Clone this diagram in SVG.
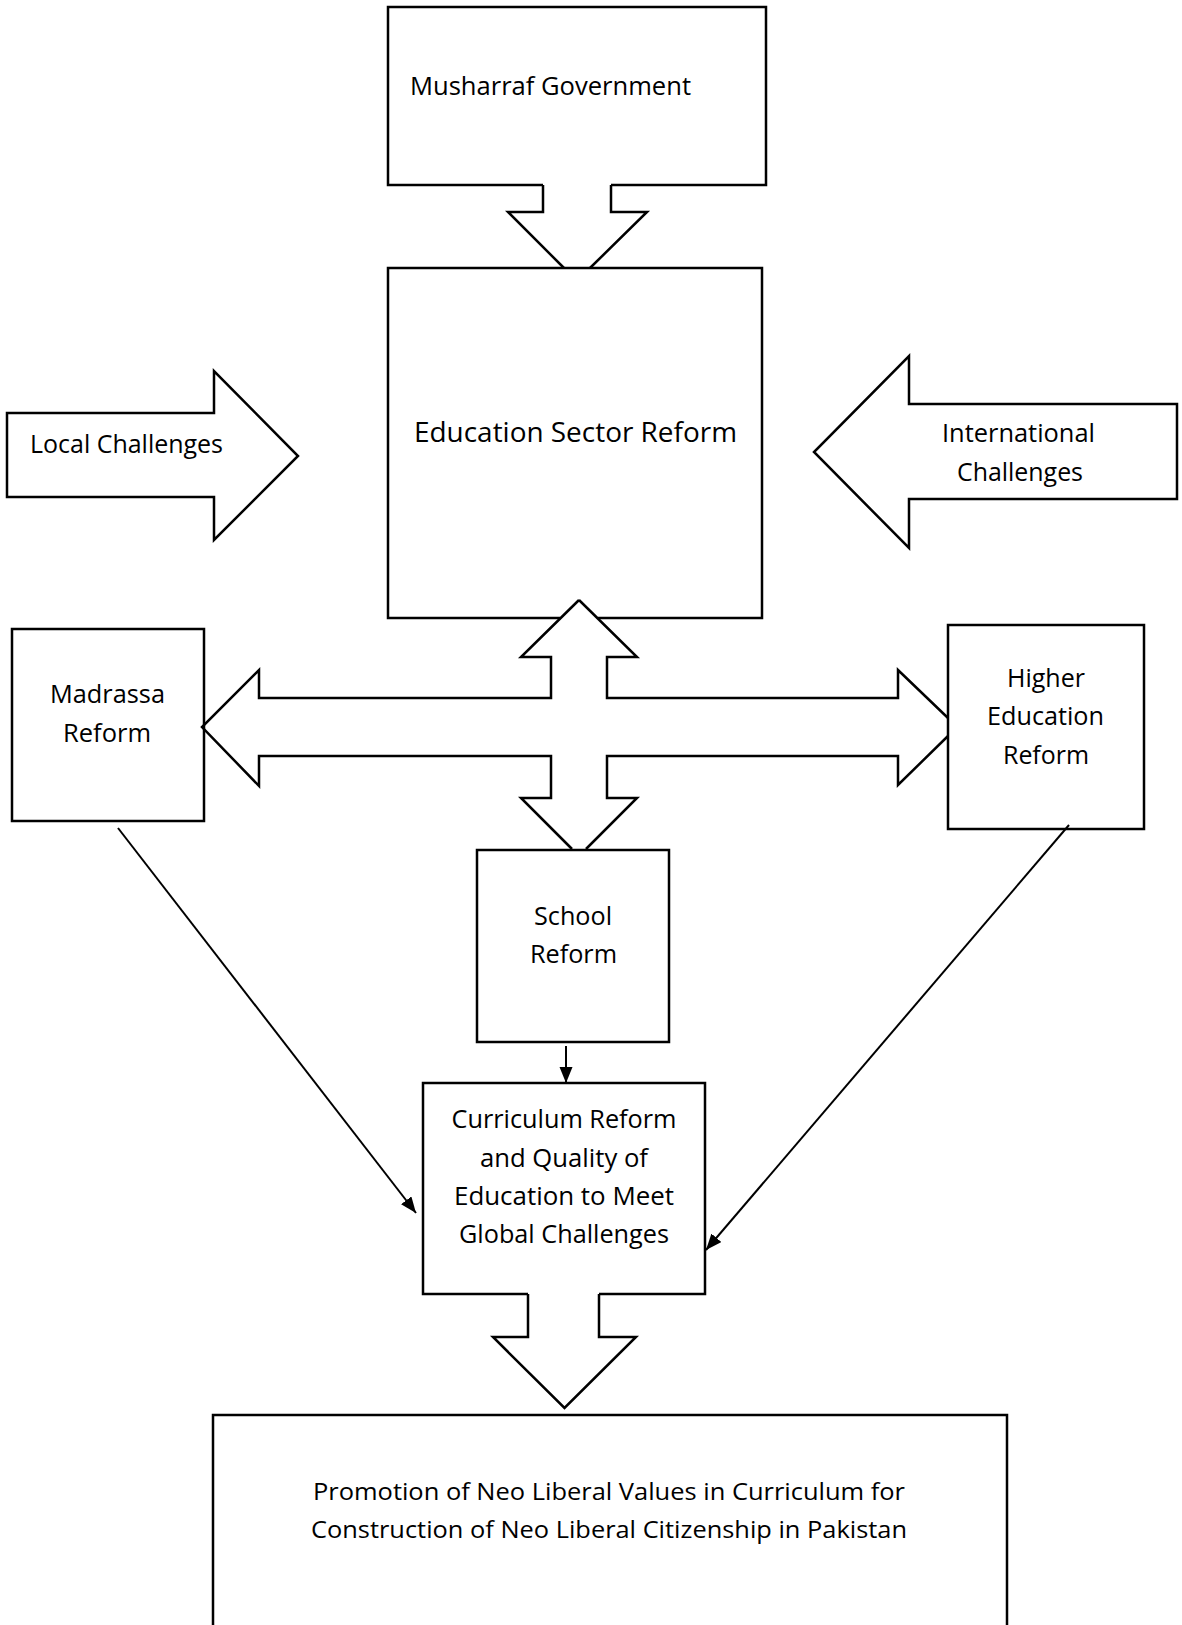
<svg xmlns="http://www.w3.org/2000/svg" width="1182" height="1625" viewBox="0 0 1182 1625">
<defs>
<style>
.box{fill:none;stroke:#000;stroke-width:2.5;stroke-linejoin:miter}
.blk{fill:none;stroke:#000;stroke-width:2.5;stroke-linejoin:miter}
.ln{fill:none;stroke:#000;stroke-width:2}
text{font-family:"Open Sans","Noto Sans","Liberation Sans",sans-serif;font-size:25px;fill:#000}
.c{text-anchor:middle}
</style>
<marker id="ah" markerUnits="userSpaceOnUse" markerWidth="18" markerHeight="14" refX="16" refY="6.5" orient="auto">
<path d="M0,0 L16,6.5 L0,13 z" fill="#000"/>
</marker>
</defs>
<rect width="1182" height="1625" fill="#fff"/>

<g id="musharraf">
<path class="box" d="M543,185 H388 V7 H766 V185 H611"/>
<text x="410" y="95" textLength="281" lengthAdjust="spacingAndGlyphs">Musharraf Government</text>
</g>

<g id="education-sector-reform">
<path class="box" d="M560,618 H388 V268 H762 V618 H598"/>
<text class="c" x="575.5" y="442" style="font-size:27px" textLength="323" lengthAdjust="spacingAndGlyphs">Education Sector Reform</text>
</g>

<g id="local-challenges">
<path class="blk" d="M7,413 H214 V371 L298,456 L214,540 V497 H7 Z"/>
<text x="30" y="453" textLength="193" lengthAdjust="spacingAndGlyphs">Local Challenges</text>
</g>

<g id="international-challenges">
<path class="blk" d="M1177,404 H909 V356 L814,452 L909,548 V499 H1177 Z"/>
<text class="c" x="1018.5" y="442" textLength="153" lengthAdjust="spacingAndGlyphs">International</text>
<text class="c" x="1020" y="481" textLength="126" lengthAdjust="spacingAndGlyphs">Challenges</text>
</g>

<g id="madrassa-reform">
<rect class="box" x="12" y="629" width="192" height="192"/>
<text class="c" x="107.5" y="703" textLength="115" lengthAdjust="spacingAndGlyphs">Madrassa</text>
<text class="c" x="107" y="742" textLength="88" lengthAdjust="spacingAndGlyphs">Reform</text>
</g>

<g id="higher-education-reform">
<rect class="box" x="948" y="625" width="196" height="204"/>
<text class="c" x="1046" y="687" textLength="78" lengthAdjust="spacingAndGlyphs">Higher</text>
<text class="c" x="1045.5" y="725" textLength="117" lengthAdjust="spacingAndGlyphs">Education</text>
<text class="c" x="1046" y="764" textLength="86" lengthAdjust="spacingAndGlyphs">Reform</text>
</g>

<g id="school-reform">
<rect class="box" x="477" y="850" width="192" height="192"/>
<text class="c" x="573" y="925" textLength="78" lengthAdjust="spacingAndGlyphs">School</text>
<text class="c" x="573.5" y="963" textLength="87" lengthAdjust="spacingAndGlyphs">Reform</text>
</g>

<g id="curriculum-reform">
<path class="box" d="M528,1294 H423 V1083 H705 V1294 H599"/>
<text class="c" x="564" y="1128" textLength="225" lengthAdjust="spacingAndGlyphs">Curriculum Reform</text>
<text class="c" x="564" y="1167" textLength="168" lengthAdjust="spacingAndGlyphs">and Quality of</text>
<text class="c" x="564" y="1205" textLength="220" lengthAdjust="spacingAndGlyphs">Education to Meet</text>
<text class="c" x="564" y="1243" textLength="210" lengthAdjust="spacingAndGlyphs">Global Challenges</text>
</g>

<g id="neo-liberal-values">
<rect class="box" x="213" y="1415" width="794" height="240"/>
<text class="c" x="609" y="1500" style="font-size:24px" textLength="592" lengthAdjust="spacingAndGlyphs">Promotion of Neo Liberal Values in Curriculum for</text>
<text class="c" x="609" y="1538" style="font-size:24px" textLength="596" lengthAdjust="spacingAndGlyphs">Construction of Neo Liberal Citizenship in Pakistan</text>
</g>

<g id="connectors">
<path class="blk" d="M543,185 V212 H508 L564,268 M590,268 L647,212 H611 V185"/>
<path class="blk" d="M579,600 L637,657 H607 V698 H898 V670 L948,718 M948,736 L898,785 V756 H607 V798 H637 L586,849 M572,849 L521,798 H551 V756 H259 V786 L202,727 L259,670 V698 H551 V657 H521 L579,600"/>
<path class="blk" d="M528,1294 V1337 H493 L564.5,1408 L636,1337 H599 V1294"/>
<line class="ln" x1="566" y1="1046" x2="566" y2="1083" marker-end="url(#ah)"/>
<line class="ln" x1="118" y1="828" x2="416" y2="1213" marker-end="url(#ah)"/>
<line class="ln" x1="1069" y1="825" x2="706" y2="1250" marker-end="url(#ah)"/>
</g>
</svg>
